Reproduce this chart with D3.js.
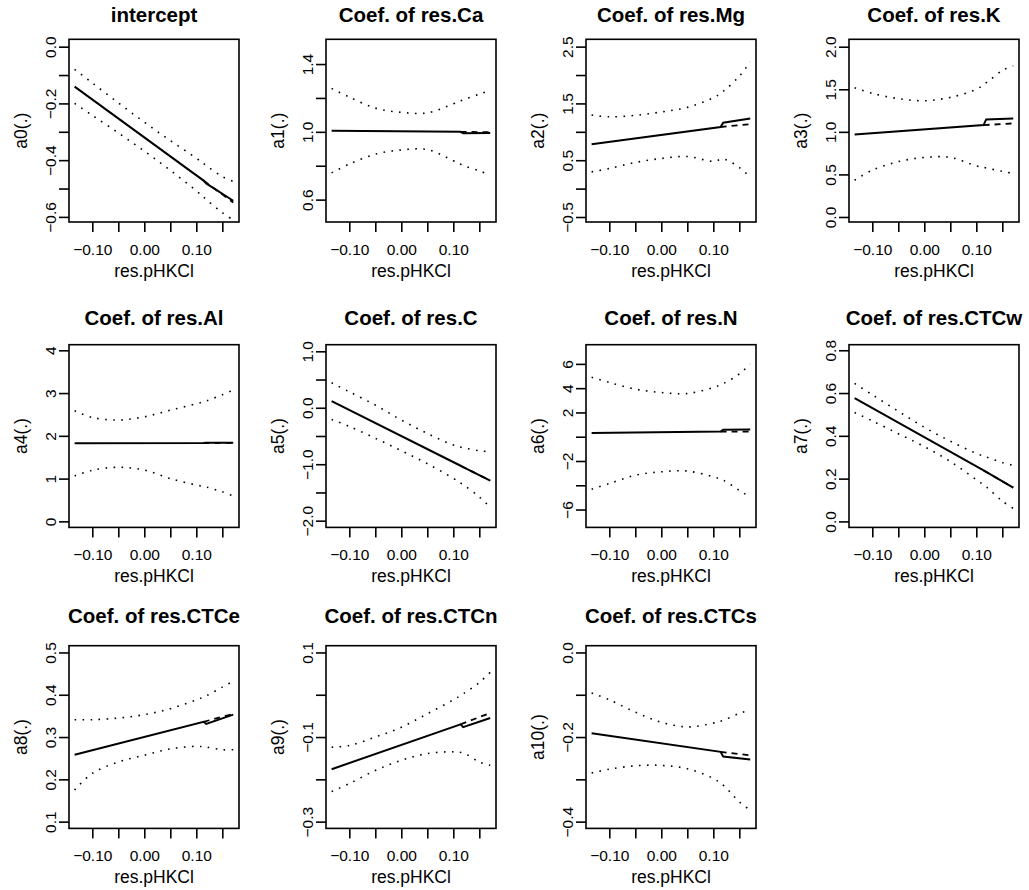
<!DOCTYPE html>
<html><head><meta charset="utf-8">
<script src="https://cdn.jsdelivr.net/npm/d3@7"></script>
<style>body{margin:0;background:#fff} svg{display:block}</style>
</head><body><svg id="c" width="1029" height="890"></svg>
<script>
const titles = ["intercept","Coef. of res.Ca","Coef. of res.Mg","Coef. of res.K","Coef. of res.Al","Coef. of res.C","Coef. of res.N","Coef. of res.CTCw","Coef. of res.CTCe","Coef. of res.CTCn","Coef. of res.CTCs"];
const yLabels = ["a0(.)","a1(.)","a2(.)","a3(.)","a4(.)","a5(.)","a6(.)","a7(.)","a8(.)","a9(.)","a10(.)"];
const xLabel = "res.pHKCl";
const xLimits = [-0.1448, 0.1821];
const xTicks = [-0.10,-0.05,0.00,0.05,0.10,0.15];
const xTickLabels = ["\u22120.10","","0.00","","0.10",""];
const yLimits = [[-0.618,0.026],[0.468,1.546],[-0.588,2.629],[-0.059,2.087],[-0.141,4.131],[-2.119,1.117],[-7.47,7.58],[-0.028,0.826],[0.084,0.516],[-0.316,0.116],[-0.416,0.016]];
const yTicks = [
 [0,-0.1,-0.2,-0.3,-0.4,-0.5,-0.6],
 [0.6,0.8,1.0,1.2,1.4],
 [-0.5,0,0.5,1.0,1.5,2.0,2.5],
 [0,0.5,1.0,1.5,2.0],
 [0,1,2,3,4],
 [-2,-1.5,-1,-0.5,0,0.5,1],
 [-6,-4,-2,0,2,4,6],
 [0,0.2,0.4,0.6,0.8],
 [0.1,0.2,0.3,0.4,0.5],
 [-0.3,-0.2,-0.1,0,0.1],
 [-0.4,-0.3,-0.2,-0.1,0]
];
const yTickLabels = [
 ["0.0","","\u22120.2","","\u22120.4","","\u22120.6"],
 ["0.6","","1.0","","1.4"],
 ["\u22120.5","","0.5","","1.5","","2.5"],
 ["0.0","0.5","1.0","1.5","2.0"],
 ["0","1","2","3","4"],
 ["\u22122.0","","\u22121.0","","0.0","","1.0"],
 ["\u22126","","\u22122","","2","4","6"],
 ["0.0","0.2","0.4","0.6","0.8"],
 ["0.1","0.2","0.3","0.4","0.5"],
 ["\u22120.3","","\u22120.1","","0.1"],
 ["\u22120.4","","\u22120.2","","0.0"]
];
// fitted coefficient (solid) at estX; dashed continuation at dashX
const estX = [-0.134, 0.114, 0.119, 0.171];
const estimate = [
 [-0.141,-0.472,-0.482,-0.543],
 [1.006,1.000,0.992,0.993],
 [0.782,1.085,1.160,1.235],
 [0.969,1.079,1.146,1.158],
 [1.825,1.830,1.836,1.838],
 [0.118,-1.027,-1.050,-1.290],
 [0.31,0.42,0.58,0.60],
 [0.576,0.238,0.231,0.158],
 [0.258,0.336,0.331,0.353],
 [-0.176,-0.070,-0.0765,-0.055],
 [-0.191,-0.235,-0.246,-0.253]
];
const dashX = [0.114, 0.171];
const dashed = [
 [-0.472,-0.549],
 [1.000,0.998],
 [1.085,1.135],
 [1.079,1.099],
 [1.830,1.836],
 [-1.027,-1.290],
 [0.42,0.42],
 [0.238,0.158],
 [0.336,0.355],
 [-0.070,-0.043],
 [-0.235,-0.243]
];
// pointwise confidence bands (dotted) at xGrid
const xGrid = [-0.134,-0.10,-0.05,0.00,0.05,0.10,0.12,0.15,0.171];
const upper = [
 [-0.080,-0.128,-0.198,-0.266,-0.331,-0.393,-0.420,-0.458,-0.475],
 [1.256,1.205,1.140,1.115,1.112,1.165,1.190,1.222,1.246],
 [1.294,1.264,1.290,1.350,1.430,1.600,1.720,1.980,2.234],
 [1.518,1.452,1.390,1.365,1.405,1.500,1.580,1.720,1.776],
 [2.586,2.430,2.370,2.445,2.600,2.750,2.820,2.960,3.070],
 [0.442,0.283,0.048,-0.218,-0.455,-0.660,-0.710,-0.760,-0.779],
 [4.89,4.47,3.92,3.64,3.56,4.06,4.40,5.17,6.00],
 [0.645,0.592,0.515,0.440,0.375,0.318,0.300,0.275,0.262],
 [0.341,0.341,0.345,0.353,0.367,0.388,0.398,0.418,0.432],
 [-0.124,-0.120,-0.100,-0.077,-0.045,-0.012,0.003,0.029,0.053],
 [-0.096,-0.112,-0.141,-0.165,-0.176,-0.167,-0.160,-0.144,-0.136]
];
const lower = [
 [-0.200,-0.242,-0.304,-0.368,-0.436,-0.508,-0.540,-0.585,-0.611],
 [0.758,0.810,0.868,0.893,0.895,0.830,0.800,0.770,0.744],
 [0.294,0.354,0.460,0.530,0.565,0.480,0.520,0.370,0.200],
 [0.432,0.549,0.650,0.699,0.700,0.600,0.575,0.535,0.510],
 [1.063,1.196,1.265,1.200,1.000,0.850,0.800,0.690,0.594],
 [-0.207,-0.330,-0.540,-0.760,-0.990,-1.250,-1.370,-1.580,-1.764],
 [-4.33,-3.86,-3.17,-2.89,-2.83,-3.30,-3.60,-4.42,-4.97],
 [0.509,0.470,0.410,0.350,0.280,0.195,0.160,0.095,0.061],
 [0.175,0.214,0.241,0.257,0.272,0.278,0.276,0.270,0.270],
 [-0.229,-0.210,-0.179,-0.155,-0.139,-0.135,-0.138,-0.159,-0.167],
 [-0.285,-0.276,-0.268,-0.267,-0.275,-0.298,-0.315,-0.353,-0.373]
];

const svg = d3.select("#c");
const colLeft = [69, 326, 586, 849];
const rowTop = [39.3, 344.7, 645.7];
const titleBase = [21.5, 325, 623];
const W = 170, H = 182.7;
const font = "'Liberation Sans', Arial, Helvetica, sans-serif";
const tickFont = "15.5px", labFont = "17.5px";

titles.forEach((t, i) => {
  const col = i % 4, row = Math.floor(i / 4);
  const L = colLeft[col], T = rowTop[row];
  const x = d3.scaleLinear().domain(xLimits).range([L, L + W]);
  const y = d3.scaleLinear().domain(yLimits[i]).range([T + H, T]);
  const g = svg.append("g");

  // bands
  const bandLine = d3.line().x((d, j) => x(xGrid[j])).y(d => y(d)).curve(d3.curveCatmullRom.alpha(0.5));
  [upper[i], lower[i]].forEach(arr => {
    g.append("path").attr("d", bandLine(arr)).attr("fill", "none")
      .attr("stroke", "#000").attr("stroke-width", 1.6)
      .attr("stroke-dasharray", "1.6,6.4").attr("stroke-linecap", "butt");
  });
  // dashed
  const dl = d3.line().x((d, j) => x(dashX[j])).y(d => y(d));
  g.append("path").attr("d", dl(dashed[i])).attr("fill", "none")
    .attr("stroke", "#000").attr("stroke-width", 1.8).attr("stroke-dasharray", "6,5");
  // solid
  const sl = d3.line().x((d, j) => x(estX[j])).y(d => y(d));
  g.append("path").attr("d", sl(estimate[i])).attr("fill", "none")
    .attr("stroke", "#000").attr("stroke-width", 2);

  // box
  g.append("rect").attr("x", L).attr("y", T).attr("width", W).attr("height", H)
    .attr("fill", "none").attr("stroke", "#000").attr("stroke-width", 1.6);

  // x axis
  const xa = g.append("g").attr("transform", `translate(0,${T + H})`)
    .call(d3.axisBottom(x).tickValues(xTicks).tickSize(10).tickFormat((d, j) => xTickLabels[j]));
  xa.select(".domain").remove();
  xa.selectAll("line").attr("stroke-width", 1.6);
  xa.selectAll("text").attr("y", 33).attr("dy", null)
    .style("font-family", font).style("font-size", tickFont).attr("fill", "#000");

  // y axis
  const yl = yTickLabels[i];
  const ya = g.append("g").attr("transform", `translate(${L},0)`)
    .call(d3.axisLeft(y).tickValues(yTicks[i]).tickSize(10).tickFormat((d, j) => yl[j]));
  ya.select(".domain").remove();
  ya.selectAll("line").attr("stroke-width", 1.6);
  ya.selectAll("text").attr("x", 0).attr("y", -13).attr("dy", null)
    .attr("transform", "rotate(-90)").attr("text-anchor", "middle")
    .style("font-family", font).style("font-size", tickFont).attr("fill", "#000");

  // titles
  g.append("text").attr("x", L + W / 2).attr("y", titleBase[row]).attr("text-anchor", "middle")
    .style("font-family", font).style("font-size", "20.5px").style("font-weight", "bold").text(t);
  g.append("text").attr("x", L + W / 2).attr("y", T + H + 55).attr("text-anchor", "middle")
    .style("font-family", font).style("font-size", labFont).text(xLabel);
  g.append("text").attr("transform", `translate(${L - 42},${T + H / 2}) rotate(-90)`)
    .attr("text-anchor", "middle")
    .style("font-family", font).style("font-size", labFont).text(yLabels[i]);
});
</script></body></html>
